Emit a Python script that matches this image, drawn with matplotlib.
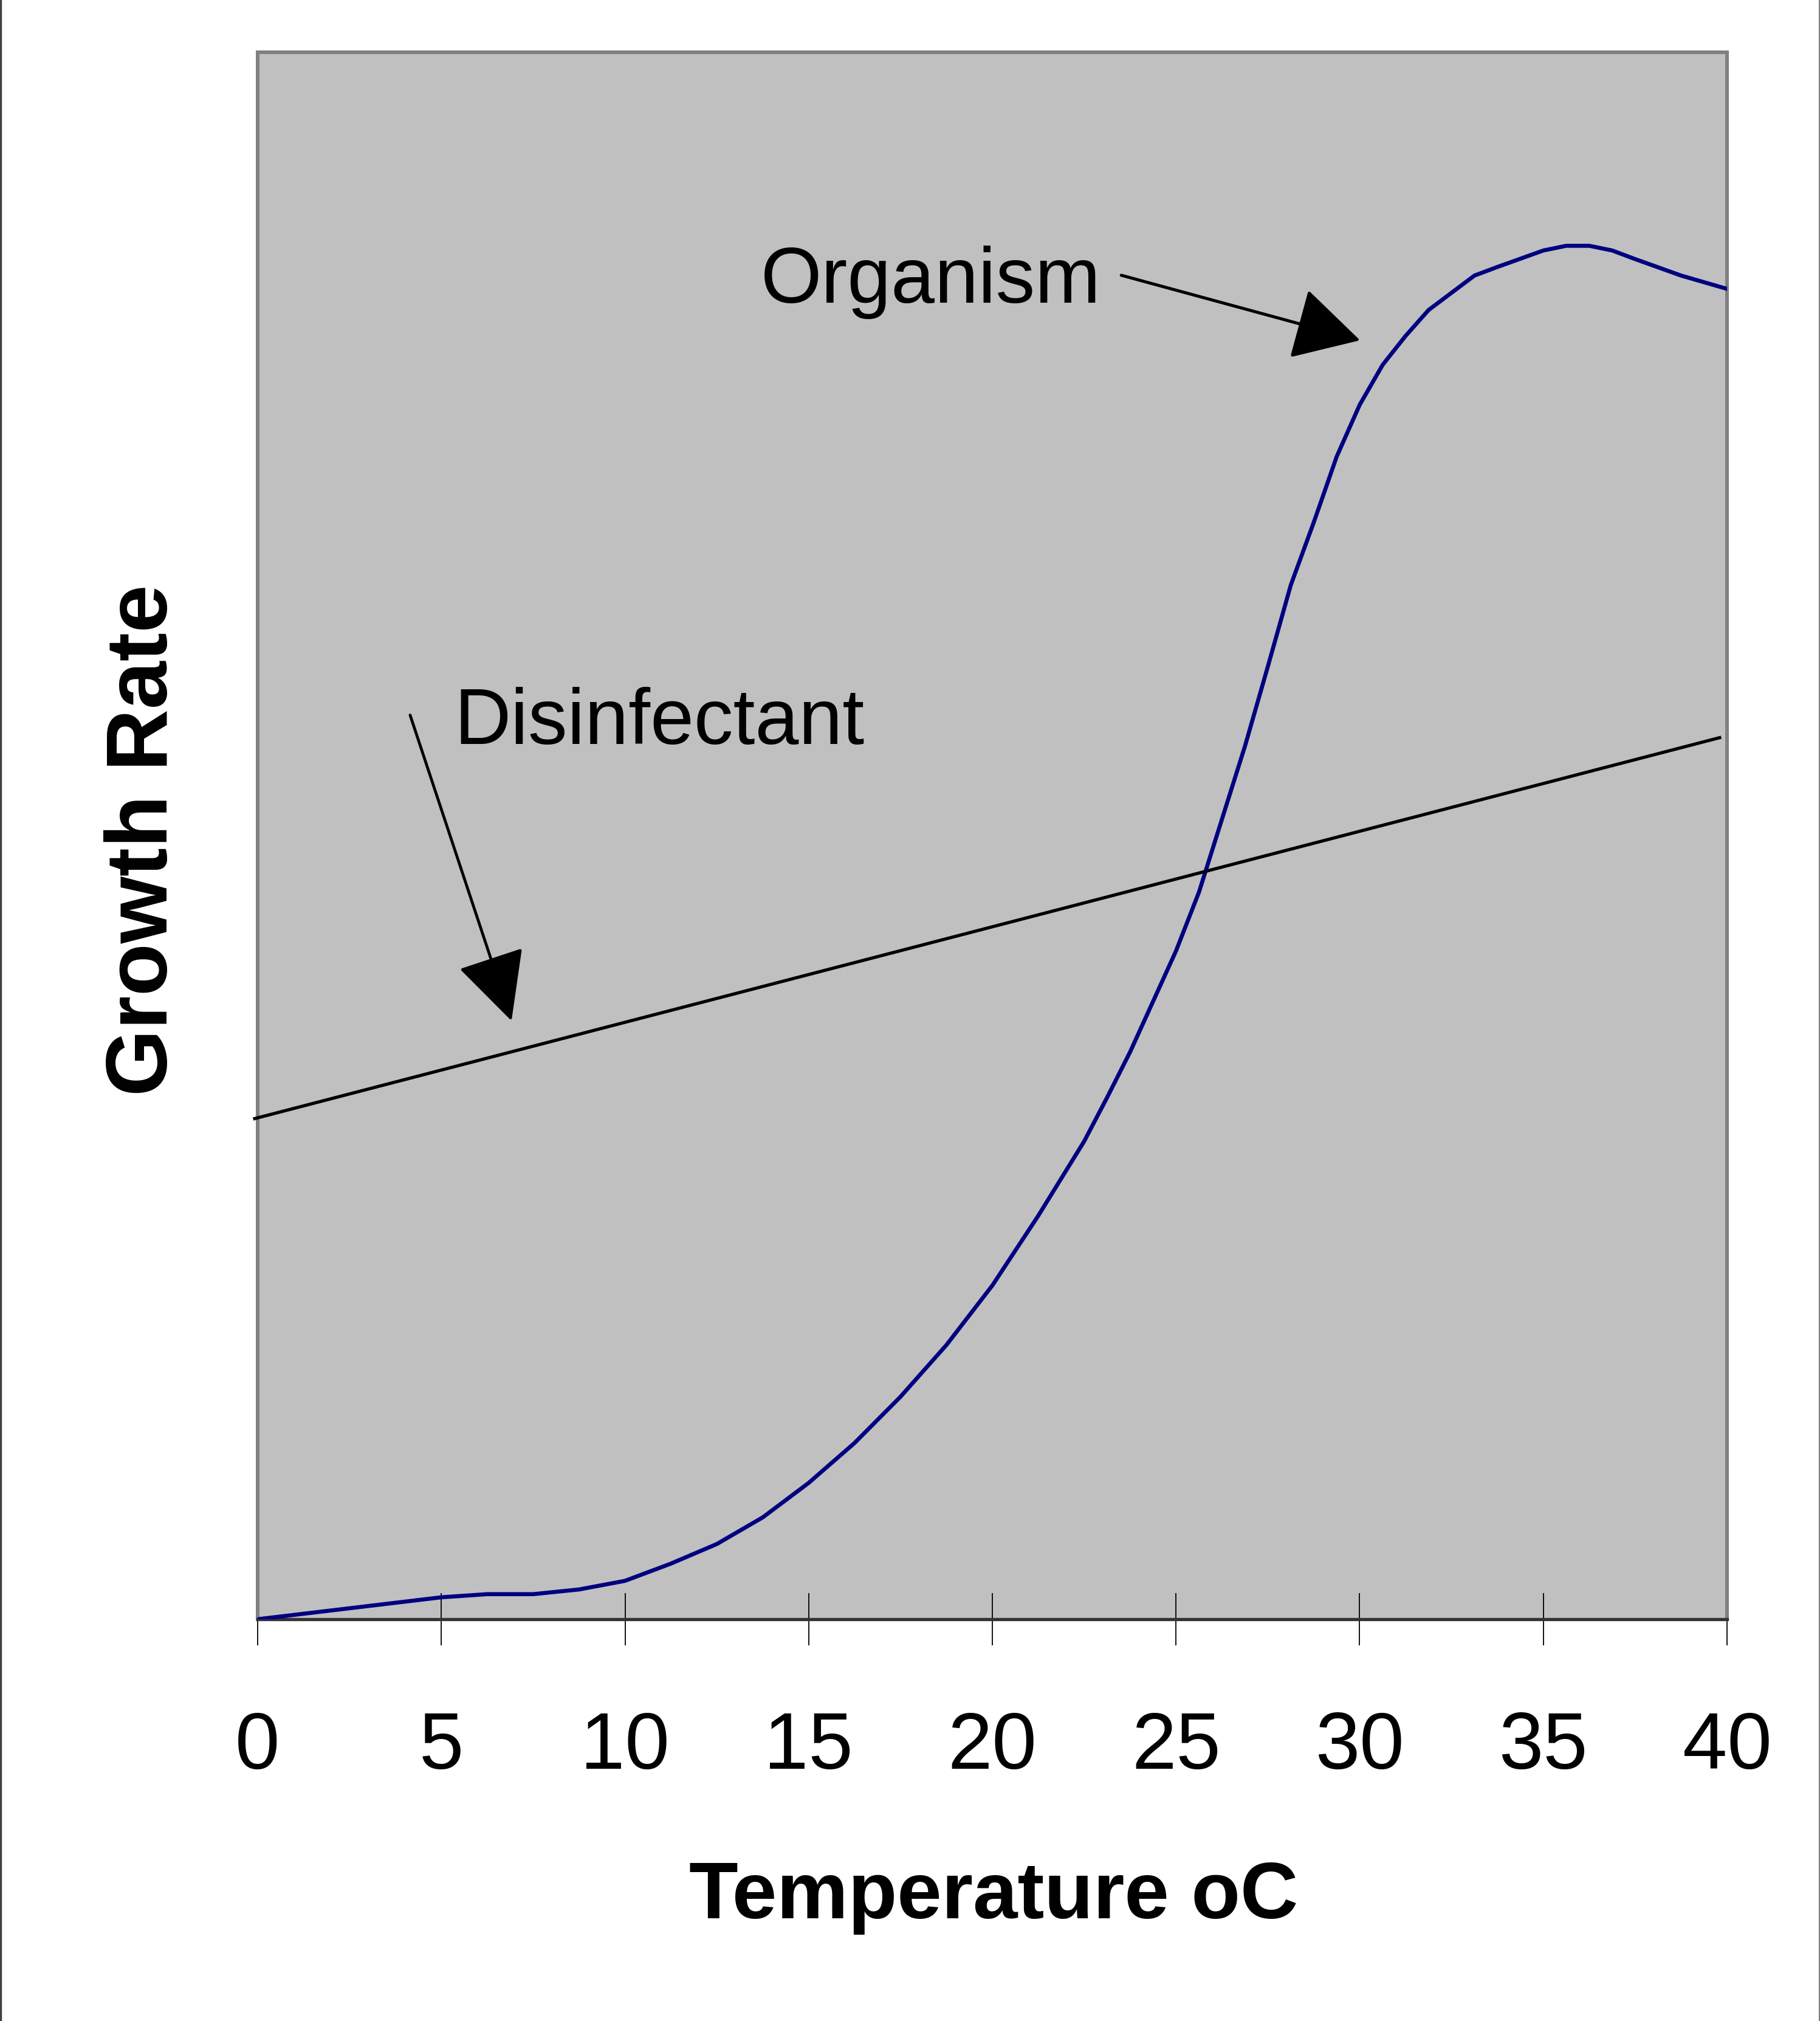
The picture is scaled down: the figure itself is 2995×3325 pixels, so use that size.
import numpy as np
import matplotlib
matplotlib.use("Agg")
import matplotlib.pyplot as plt
from matplotlib.lines import Line2D

plt.rcParams["font.family"] = ["Liberation Sans", "DejaVu Sans"]

# organism growth curve (temperature, growth rate)
temp = [0, 5, 6.25, 7.5, 8.75, 10, 11.25, 12.5, 13.75, 15, 16.25, 17.5, 18.75,
        20, 21.25, 22.5, 23.125, 23.75, 25, 25.625, 26.875, 27.5, 28.125,
        28.75, 29.375, 30, 30.625, 31.25, 31.875, 32.5, 33.125, 33.75, 35,
        35.625, 36.25, 36.875, 37.5, 38.75, 40]
organism = [0, 1.4, 1.6, 1.6, 1.9, 2.45, 3.55, 4.8, 6.5, 8.7, 11.25, 14.2, 17.5,
            21.3, 25.75, 30.5, 33.3, 36.2, 42.65, 46.4, 55.7, 60.8, 66.0,
            70.0, 74.2, 77.5, 80.05, 81.9, 83.55, 84.65, 85.75, 86.3, 87.35,
            87.65, 87.65, 87.35, 86.8, 85.75, 84.9]

# disinfectant line end points
dis_temp = [-0.08, 39.8]
disinfectant = [31.95, 56.26]

xticks = [0, 5, 10, 15, 20, 25, 30, 35, 40]

fig = plt.figure(figsize=(29.95, 33.25), dpi=100)
fig.patch.set_facecolor("white")
ax = fig.add_axes([424 / 2995, 1 - 2664 / 3325, (2842 - 424) / 2995, (2664 - 86) / 3325])
ax.set_facecolor("#c0c0c0")

ax.plot(temp, organism, color="#000080", lw=4.8, solid_joinstyle="miter", zorder=3)
ax.plot(dis_temp, disinfectant, color="black", lw=3.8, clip_on=False, zorder=3)

ax.set_xlim(0, 40)
ax.set_ylim(0, 100)
ax.set_xticks(xticks)
ax.set_xticklabels([str(t) for t in xticks], fontsize=95)
ax.set_yticks([])
ax.tick_params(axis="x", direction="inout", length=62, width=1.3, color="black", pad=77)

for s in ["left", "right", "top"]:
    ax.spines[s].set_color("#808080")
    ax.spines[s].set_linewidth(4.3)
ax.spines["bottom"].set_color("#333333")
ax.spines["bottom"].set_linewidth(3.8)

# annotations
ax.text(18.33, 84.0, "Organism", fontsize=93, ha="center", va="baseline")
ax.text(10.93, 55.84, "Disinfectant", fontsize=93, ha="center", va="baseline")
ax.annotate("", xy=(30.01, 81.62), xytext=(23.51, 85.77),
            arrowprops=dict(arrowstyle="-|>,head_length=69,head_width=38",
                            mutation_scale=1, lw=3.6, color="black",
                            shrinkA=0, shrinkB=0))
ax.annotate("", xy=(6.91, 38.19), xytext=(4.15, 57.70),
            arrowprops=dict(arrowstyle="-|>,head_length=72,head_width=36",
                            mutation_scale=1, lw=3.4, color="black",
                            shrinkA=0, shrinkB=0))

fig.text(1635 / 2995, 1 - 3156 / 3325, "Temperature oC", fontsize=95,
         fontweight="bold", ha="center", va="baseline")
fig.text(238 / 2995, 1 - 1382 / 3325, "Growth Rate", fontsize=102,
         fontweight="bold", rotation=90, ha="center", va="center")

# thin frame lines at the picture edges
fig.add_artist(Line2D([0.0005, 0.0005], [0, 1], transform=fig.transFigure, color="#404040", lw=2.5))
fig.add_artist(Line2D([0.9995, 0.9995], [0, 1], transform=fig.transFigure, color="#808080", lw=1.5))

fig.savefig("out.png", dpi=100, facecolor="white")
